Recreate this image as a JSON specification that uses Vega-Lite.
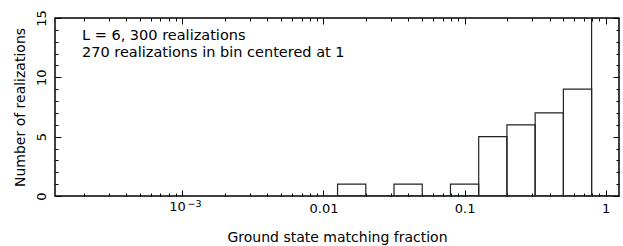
{
  "$schema": "https://vega.github.io/schema/vega-lite/v6.json",
  "autosize": "none",
  "width": 564,
  "height": 178,
  "padding": {"left": 55, "top": 18, "right": 4, "bottom": 50},
  "background": "white",
  "config": {
    "view": {"stroke": "black", "strokeWidth": 1.5},
    "font": "DejaVu Sans",
    "axis": {
      "domain": false,
      "grid": false,
      "ticks": true,
      "zindex": 1,
      "tickColor": "black",
      "tickOpacity": 1,
      "labelColor": "black",
      "titleColor": "black",
      "labelFont": "DejaVu Sans",
      "titleFont": "DejaVu Sans",
      "labelFontSize": 13,
      "titleFontSize": 14,
      "titleFontWeight": "normal",
      "tickWidth": 1
    }
  },
  "data": {
    "values": [
      {"lo": 0.012589, "hi": 0.019953, "count": 1},
      {"lo": 0.019953, "hi": 0.031623, "count": 0},
      {"lo": 0.031623, "hi": 0.050119, "count": 1},
      {"lo": 0.050119, "hi": 0.079433, "count": 0},
      {"lo": 0.079433, "hi": 0.125893, "count": 1},
      {"lo": 0.125893, "hi": 0.199526, "count": 5},
      {"lo": 0.199526, "hi": 0.316228, "count": 6},
      {"lo": 0.316228, "hi": 0.501187, "count": 7},
      {"lo": 0.501187, "hi": 0.794328, "count": 9},
      {"lo": 0.794328, "hi": 1.258925, "count": 270}
    ]
  },
  "resolve": {"axis": {"x": "independent", "y": "independent"}},
  "layer": [
    {
      "mark": {"type": "rect", "fill": "transparent", "stroke": "#222", "strokeWidth": 1.2, "clip": true},
      "encoding": {
        "x": {"field": "lo", "type": "quantitative",
              "scale": {"type": "log", "domain": [0.0001253, 1.242], "nice": false},
              "axis": {"orient": "bottom", "values": [0.001, 0.01, 0.1, 1], "offset": -6, "tickSize": 6,
                       "labelPadding": {"condition": {"test": "datum.value < 0.005", "value": 4}, "value": 6},
                       "labelExpr": "datum.value < 0.005 ? '10' : datum.value < 0.05 ? '0.01' : datum.value < 0.5 ? '0.1' : '1'",
                       "labelOffset": {"condition": {"test": "datum.value < 0.005", "value": -5.3}, "value": 0},
                       "labelFlush": false,
                       "title": "Ground state matching fraction", "titlePadding": 15}},
        "x2": {"field": "hi"},
        "y": {"field": "count", "type": "quantitative",
              "scale": {"domain": [0, 15], "nice": false},
              "axis": {"orient": "left", "values": [0, 5, 10, 15], "offset": -6, "tickSize": 6, "labelAngle": -90,
                       "labelAlign": "center", "labelBaseline": "bottom", "labelPadding": 7, "labelFlush": false,
                       "title": "Number of realizations", "titlePadding": 8}},
        "y2": {"datum": 0}
      }
    },
    {
      "mark": {"type": "rect", "opacity": 0, "clip": true},
      "encoding": {
        "x": {"field": "lo", "type": "quantitative",
              "axis": {"orient": "bottom", "values": [0.0002,0.0003,0.0004,0.0005,0.0006,0.0007,0.0008,0.0009,0.002,0.003,0.004,0.005,0.006,0.007,0.008,0.009,0.02,0.03,0.04,0.05,0.06,0.07,0.08,0.09,0.2,0.3,0.4,0.5,0.6,0.7,0.8,0.9],
                       "offset": -3, "tickSize": 3, "labels": false, "title": null}},
        "x2": {"field": "hi"},
        "y": {"field": "count", "type": "quantitative",
              "axis": {"orient": "left", "values": [1,2,3,4,6,7,8,9,11,12,13,14], "offset": -3, "tickSize": 3, "labels": false, "title": null}},
        "y2": {"datum": 0}
      }
    },
    {
      "mark": {"type": "rect", "opacity": 0, "clip": true},
      "encoding": {
        "x": {"field": "lo", "type": "quantitative",
              "axis": {"orient": "top", "values": [0.001, 0.01, 0.1, 1], "offset": -6, "tickSize": 6, "labels": false, "title": null}},
        "x2": {"field": "hi"},
        "y": {"field": "count", "type": "quantitative",
              "axis": {"orient": "right", "values": [0, 5, 10, 15], "offset": -6, "tickSize": 6, "labels": false, "title": null}},
        "y2": {"datum": 0}
      }
    },
    {
      "mark": {"type": "rect", "opacity": 0, "clip": true},
      "encoding": {
        "x": {"field": "lo", "type": "quantitative",
              "axis": {"orient": "top", "values": [0.0002,0.0003,0.0004,0.0005,0.0006,0.0007,0.0008,0.0009,0.002,0.003,0.004,0.005,0.006,0.007,0.008,0.009,0.02,0.03,0.04,0.05,0.06,0.07,0.08,0.09,0.2,0.3,0.4,0.5,0.6,0.7,0.8,0.9],
                       "offset": -3, "tickSize": 3, "labels": false, "title": null}},
        "x2": {"field": "hi"},
        "y": {"field": "count", "type": "quantitative",
              "axis": {"orient": "right", "values": [1,2,3,4,6,7,8,9,11,12,13,14], "offset": -3, "tickSize": 3, "labels": false, "title": null}},
        "y2": {"datum": 0}
      }
    },
    {
      "mark": {"type": "rect", "opacity": 0, "clip": true},
      "encoding": {
        "x": {"field": "lo", "type": "quantitative",
              "axis": {"orient": "bottom", "values": [0.001], "ticks": false, "labelPadding": 2, "labelFontSize": 9.5,
                       "labelExpr": "'−3'", "labelOffset": 11.7, "labelFlush": false, "title": null}},
        "x2": {"field": "hi"},
        "y": {"field": "count", "type": "quantitative", "axis": null},
        "y2": {"datum": 0}
      }
    },
    {
      "data": {"values": [{}]},
      "mark": {"type": "text", "align": "left", "baseline": "alphabetic", "fontSize": 14.5, "fontWeight": "normal", "lineHeight": 17.3, "fill": "black",
               "text": ["L = 6, 300 realizations", "270 realizations in bin centered at 1"]},
      "encoding": {
        "x": {"datum": 0.0001946, "type": "quantitative", "axis": null},
        "y": {"datum": 13.15, "type": "quantitative", "axis": null}
      }
    }
  ]
}
